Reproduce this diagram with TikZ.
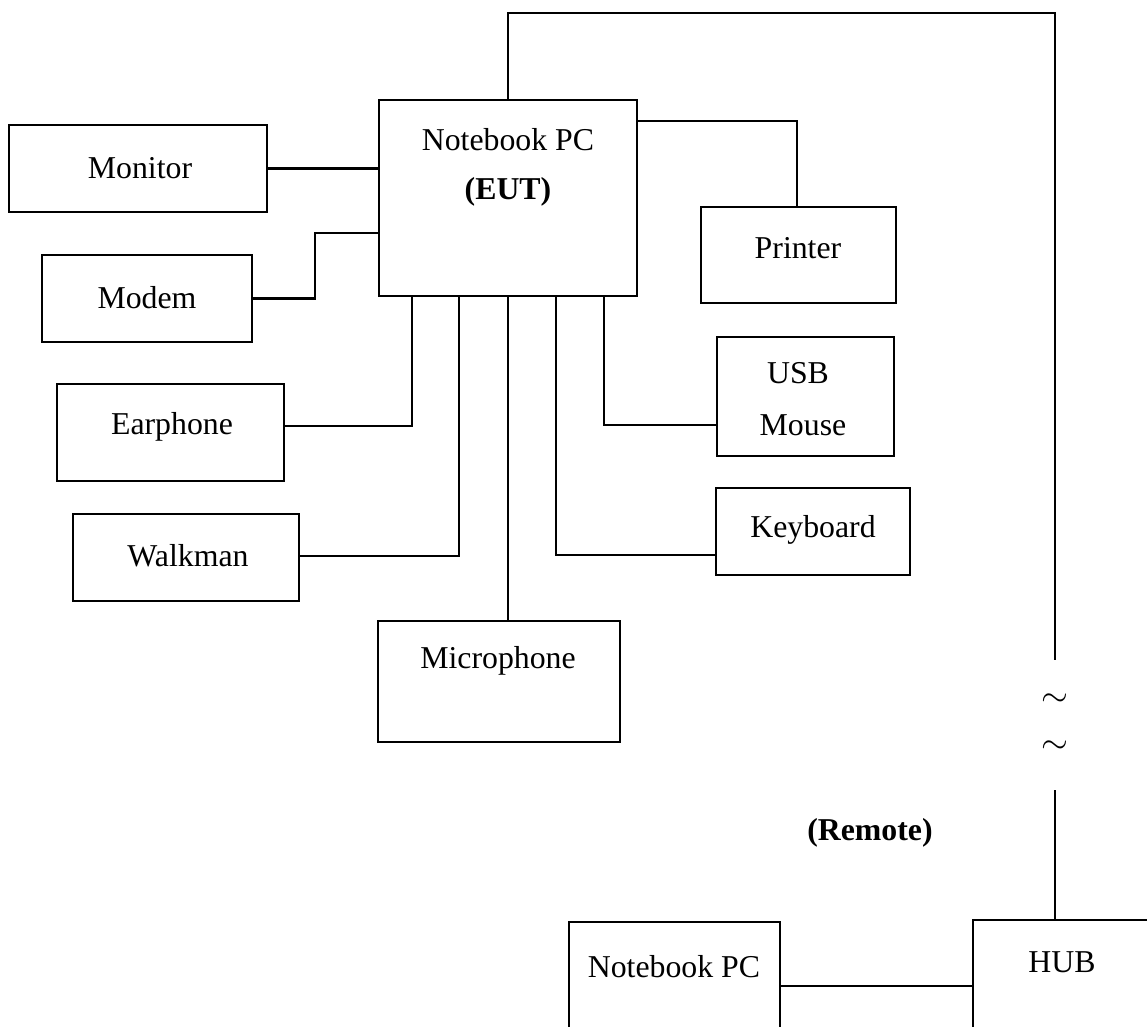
\documentclass[tikz,border=0pt]{standalone}
\usepackage{fontspec}
\setmainfont{Liberation Serif}
\begin{document}
\begin{tikzpicture}[x=0.5pt,y=-0.5pt,line width=1.1pt,
  box/.style={draw,rectangle,inner sep=0pt,outer sep=0pt,anchor=north west,line width=1.1pt},
  lbl/.style={font=\fontsize{15.9}{19}\selectfont,inner sep=0pt},
  blbl/.style={font=\fontsize{15.9}{19}\selectfont\bfseries,inner sep=0pt},
  wire/.style={line width=1.1pt}]
\useasboundingbox (0,0) rectangle (1147,1027);
\clip (0,0) rectangle (1147,1027);
% boxes
\node[box,minimum width=129pt,minimum height=43.5pt] (mon) at (9,125) {};
\node[box,minimum width=105pt,minimum height=43.5pt] (mod) at (42,255) {};
\node[box,minimum width=113.5pt,minimum height=48.5pt] (ear) at (57,384) {};
\node[box,minimum width=113pt,minimum height=43.5pt] (wlk) at (73,514) {};
\node[box,minimum width=129pt,minimum height=98pt] (eut) at (379,100) {};
\node[box,minimum width=97.5pt,minimum height=48pt] (prn) at (701,207) {};
\node[box,minimum width=88.5pt,minimum height=59.5pt] (usb) at (717,337) {};
\node[box,minimum width=97pt,minimum height=43.5pt] (kbd) at (716,488) {};
\node[box,minimum width=121pt,minimum height=60.5pt] (mic) at (378,621) {};
\node[box,minimum width=105.5pt,minimum height=69pt] (rnb) at (569,922) {};
\node[box,minimum width=98.5pt,minimum height=70pt] (hub) at (973,920) {};
% labels
\node[lbl] (tmon) at (140,168) {Monitor};
\node[lbl] (tmod) at (147,298) {Modem};
\node[lbl] (tear) at (172,427) {Earphone};
\node[lbl] (twlk) at (188,556) {Walkman};
\node[lbl] (teut1) at (508,140) {Notebook PC};
\node[blbl] (teut2) at (508,192) {(EUT)};
\node[lbl] (tprn) at (798,248) {Printer};
\node[lbl] (tusb1) at (798,373) {USB};
\node[lbl] (tusb2) at (803,425) {Mouse};
\node[lbl] (tkbd) at (813,530) {Keyboard};
\node[lbl] (tmic) at (498,661) {Microphone};
\node[lbl] (trnb) at (674,967) {Notebook PC};
\node[lbl] (thub) at (1062,962) {HUB};
\node[blbl] (trem) at (870,833) {(Remote)};
\node[lbl] (til1) at (1055,700) {$\sim$};
\node[lbl] (til2) at (1055,747) {$\sim$};
% connectors
\coordinate (brkA) at (1055,660);
\coordinate (brkB) at (1055,790);
\draw[wire] (mon.east) -- (mon.east -| eut.west);
\draw[wire] (mod.east) -- (315,298.5) -- (315,233) -- (eut.west |- 0,233);
\draw[wire] (ear.east |- 0,426) -- (412,426) -- (eut.south -| 412,0);
\draw[wire] (wlk.east |- 0,556) -- (459,556) -- (eut.south -| 459,0);
\draw[wire] (eut.south -| 508,0) -- (mic.north -| 508,0);
\draw[wire] (eut.south -| 556,0) -- (556,555) -- (kbd.west |- 0,555);
\draw[wire] (eut.south -| 604,0) -- (604,425) -- (usb.west |- 0,425);
\draw[wire] (eut.east |- 0,121) -- (797,121) -- (prn.north -| 797,0);
\draw[wire] (eut.north -| 508,0) -- (508,13) -| (brkA);
\draw[wire] (brkB) -- (hub.north -| brkB);
\draw[wire] (rnb.east |- 0,986) -- (hub.west |- 0,986);
\end{tikzpicture}
\end{document}
